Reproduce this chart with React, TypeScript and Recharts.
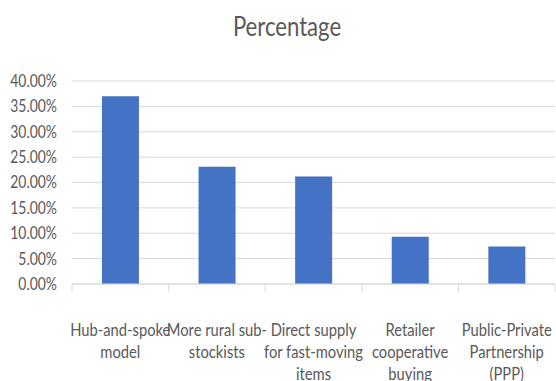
import { BarChart, Bar, XAxis, YAxis, CartesianGrid } from "recharts";

const categories = [
  "Hub-and-spoke model",
  "More rural sub-stockists",
  "Direct supply for fast-moving items",
  "Retailer cooperative buying",
  "Public-Private Partnership (PPP)",
];

const labelLines = [
  ["Hub-and-spoke", "model"],
  ["More rural sub-", "stockists"],
  ["Direct supply", "for fast-moving", "items"],
  ["Retailer", "cooperative", "buying"],
  ["Public-Private", "Partnership", "(PPP)"],
];

const percentages = [0.37, 0.231, 0.212, 0.093, 0.074];

const yTicks = [0, 0.05, 0.1, 0.15, 0.2, 0.25, 0.3, 0.35, 0.4];

const data = categories.map((name, i) => ({ name, value: percentages[i] }));

const FONT = "Lato, 'Liberation Sans', sans-serif";
const TEXT = "#595959";
const GRID = "#d9d9d9";
const SQUEEZE = 0.82;

function CategoryTick(props: any) {
  const { x, y, payload, index, width } = props;
  const band = width / categories.length;
  const lines = labelLines[index] ?? [payload.value];
  return (
    <g>
      <line x1={x - band / 2} y1={y - 8} x2={x - band / 2} y2={y} stroke={GRID} />
      {index === categories.length - 1 && (
        <line x1={x + band / 2} y1={y - 8} x2={x + band / 2} y2={y} stroke={GRID} />
      )}
      <g transform={`translate(${x},${y}) scale(${SQUEEZE},1)`}>
        {lines.map((line: string, i: number) => (
          <text
            key={i}
            x={0}
            y={44 + i * 22}
            textAnchor="middle"
            fill={TEXT}
            fontSize={18}
            fontFamily={FONT}
          >
            {line}
          </text>
        ))}
      </g>
    </g>
  );
}

function PercentTick(props: any) {
  const { x, y, payload } = props;
  return (
    <g transform={`translate(${x},${y}) scale(${SQUEEZE},1)`}>
      <text x={0} y={0} dy="0.35em" textAnchor="end" fill={TEXT} fontSize={17} fontFamily={FONT}>
        {`${(payload.value * 100).toFixed(2)}%`}
      </text>
    </g>
  );
}

export default function App() {
  return (
    <div style={{ position: "absolute", left: 0, top: 0, width: 556, height: 381, background: "#fff" }}>
      <div
        style={{
          position: "absolute",
          left: 0,
          top: 12,
          width: 574,
          textAlign: "center",
          fontFamily: FONT,
          fontSize: 27,
          lineHeight: "27px",
          color: TEXT,
          transform: `scaleX(${SQUEEZE})`,
        }}
      >
        Percentage
      </div>
      <BarChart
        width={556}
        height={381}
        data={data}
        margin={{ top: 81, right: 1, bottom: 0, left: 0 }}
        barCategoryGap="31%"
      >
        <CartesianGrid vertical={false} stroke={GRID} />
        <XAxis
          dataKey="name"
          axisLine={{ stroke: GRID }}
          tickLine={false}
          interval={0}
          tick={<CategoryTick />}
          height={97}
        />
        <YAxis
          width={72}
          domain={[0, 0.4]}
          ticks={yTicks}
          interval={0}
          axisLine={false}
          tickLine={false}
          tickMargin={9}
          tick={<PercentTick />}
        />
        <Bar dataKey="value" fill="#4472C4" isAnimationActive={false} />
      </BarChart>
    </div>
  );
}
